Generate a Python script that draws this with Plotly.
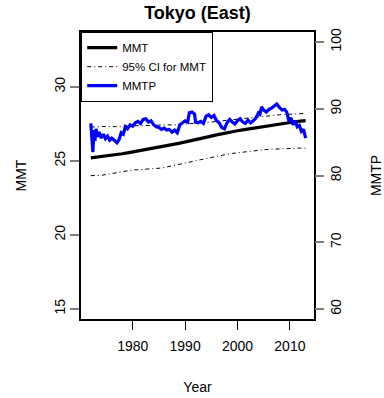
import plotly.graph_objects as go

# ---- data ----
years = list(range(1972, 2014))
mmt = [25.20, 25.24, 25.28, 25.33, 25.38, 25.43, 25.48, 25.54, 25.60, 25.66,
       25.72, 25.78, 25.85, 25.92, 25.99, 26.06, 26.13, 26.20, 26.27, 26.35,
       26.43, 26.51, 26.59, 26.67, 26.75, 26.83, 26.90, 26.97, 27.03, 27.09,
       27.15, 27.21, 27.27, 27.33, 27.39, 27.45, 27.50, 27.55, 27.60, 27.64,
       27.68, 27.72]
ci_upper = [27.30, 27.28, 27.32, 27.30, 27.33, 27.31, 27.35, 27.34, 27.36, 27.38,
            27.37, 27.40, 27.39, 27.42, 27.41, 27.44, 27.43, 27.46, 27.48, 27.50,
            27.52, 27.55, 27.58, 27.62, 27.66, 27.70, 27.74, 27.78, 27.82, 27.86,
            27.90, 27.94, 27.98, 28.02, 28.05, 28.08, 28.11, 28.13, 28.15, 28.17,
            28.19, 28.20]
ci_lower = [24.00, 23.99, 24.02, 24.08, 24.15, 24.20, 24.25, 24.32, 24.38, 24.40,
            24.42, 24.45, 24.48, 24.50, 24.55, 24.62, 24.68, 24.75, 24.83, 24.92,
            25.00, 25.08, 25.16, 25.24, 25.32, 25.38, 25.44, 25.50, 25.55, 25.60,
            25.64, 25.68, 25.72, 25.75, 25.78, 25.80, 25.82, 25.84, 25.85, 25.85,
            25.86, 25.85]

mmtp_years = [1972.0, 1972.2, 1972.4, 1972.6, 1972.8, 1973.0, 1973.3, 1973.6, 1974.0, 1974.4,
              1974.8, 1975.2, 1975.6, 1976.0, 1976.5, 1977.0, 1977.4, 1977.8, 1978.2, 1978.6,
              1979.0, 1979.5, 1980.0, 1980.5, 1981.0, 1981.5, 1982.0, 1982.5, 1983.0, 1983.5,
              1984.0, 1984.5, 1985.0, 1985.5, 1986.0, 1986.5, 1987.0, 1987.5, 1988.0, 1988.5,
              1989.0, 1989.5, 1990.0, 1990.5, 1990.8, 1991.3, 1991.8, 1992.0, 1992.5, 1993.0,
              1993.5, 1994.0, 1994.5, 1995.0, 1995.5, 1996.0, 1996.5, 1997.0, 1997.5, 1998.0,
              1998.5, 1999.0, 1999.5, 2000.0, 2000.5, 2001.0, 2001.5, 2002.0, 2002.5, 2003.0,
              2003.5, 2004.0, 2004.3, 2004.6, 2005.0, 2005.5, 2006.0, 2006.5, 2007.0, 2007.5,
              2008.0, 2008.5, 2009.0, 2009.4, 2009.8, 2010.2, 2010.6, 2011.0, 2011.4, 2011.8,
              2012.2, 2012.6, 2013.0]
mmtp = [87.8, 85.5, 83.5, 86.8, 85.2, 87.0, 85.8, 86.5, 85.6, 86.2,
        85.5, 85.9, 85.3, 85.6, 85.2, 84.9, 85.4, 86.4, 86.2, 87.3,
        87.0, 87.6, 87.4, 87.9, 88.1, 87.8, 88.4, 88.5, 88.0, 88.2,
        87.6, 87.3, 87.2, 86.9, 87.1, 86.8, 86.9, 86.5, 86.8, 86.4,
        87.6, 87.9, 88.2, 88.0, 89.4, 89.5, 89.2, 88.0, 87.9, 88.1,
        87.8, 88.9, 89.1, 88.7, 89.0, 88.2, 87.9, 87.2, 87.0, 87.9,
        88.4, 88.0, 87.7, 88.2, 88.5, 88.0, 87.8, 88.3, 87.9, 88.2,
        88.6, 89.4, 89.2, 90.3, 89.8, 89.5, 89.9, 90.1, 90.4, 90.7,
        90.2, 89.8, 89.9, 89.5, 88.2, 88.6, 87.6, 88.2, 87.3, 87.5,
        86.6, 86.9, 85.6]

FONT = "Liberation Sans, Arial, sans-serif"

fig = go.Figure()
fig.add_trace(go.Scatter(x=years, y=mmt, mode="lines", name="MMT",
                         line=dict(color="black", width=3.2)))
fig.add_trace(go.Scatter(x=years, y=ci_upper, mode="lines", name="95% CI for MMT",
                         line=dict(color="black", width=1, dash="4px,3px,1px,3px")))
fig.add_trace(go.Scatter(x=years, y=ci_lower, mode="lines", name="95% CI lower",
                         showlegend=False,
                         line=dict(color="black", width=1, dash="4px,3px,1px,3px")))
fig.add_trace(go.Scatter(x=mmtp_years, y=mmtp, mode="lines", name="MMTP", yaxis="y2",
                         line=dict(color="#0000ff", width=3.2)))

fig.update_layout(
    width=384, height=398,
    margin=dict(l=81, r=70, t=32, b=79),
    paper_bgcolor="white", plot_bgcolor="white",
    font=dict(family=FONT, size=14, color="black"),
    showlegend=True,
    title=dict(text="<b>Tokyo (East)</b>", x=0.5, xref="paper", xanchor="center",
               y=1, yref="container", yanchor="top", pad=dict(t=6),
               font=dict(family=FONT, size=18, color="black")),
    legend=dict(x=0, y=1, xanchor="left", yanchor="top",
                bgcolor="white", bordercolor="black", borderwidth=1.2,
                font=dict(family=FONT, size=11.5, color="black"),
                tracegroupgap=0, itemwidth=30),
    xaxis=dict(range=[1970.13, 2014.6], tickvals=[1980, 1990, 2000, 2010],
               ticks="outside", ticklen=9, tickcolor="black", tickwidth=1,
               ticklabelstandoff=4, automargin=False,
               showline=True, linecolor="black", linewidth=1.5, mirror=True,
               showgrid=False, zeroline=False,
               tickfont=dict(size=14),
               title=dict(text="Year", font=dict(size=14), standoff=30)),
    yaxis=dict(range=[14.32, 33.7], tickvals=[15, 20, 25, 30],
               ticks="outside", ticklen=9, tickcolor="#7f7f7f", tickwidth=1.5,
               tickangle=-90, automargin=False,
               showline=True, linecolor="black", linewidth=1.5, mirror=True,
               showgrid=False, zeroline=False,
               tickfont=dict(size=14),
               title=dict(text="MMT", font=dict(size=14), standoff=22)),
    yaxis2=dict(range=[58.5, 101.5], tickvals=[60, 70, 80, 90, 100],
                overlaying="y", side="right",
                ticks="outside", ticklen=9, tickcolor="#7f7f7f", tickwidth=1.5,
                tickangle=-90, automargin=False,
                showgrid=False, zeroline=False,
                tickfont=dict(size=14),
                title=dict(text="MMTP", font=dict(size=14), standoff=29)),
)

fig.write_html("out.html")
